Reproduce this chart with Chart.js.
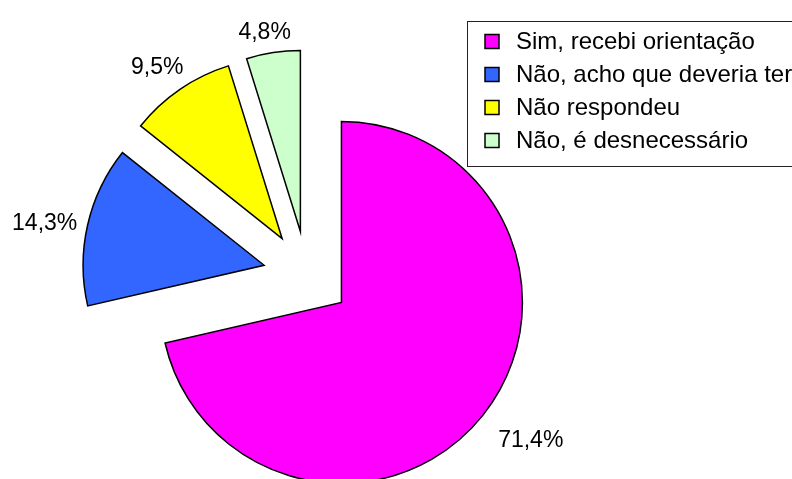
<!DOCTYPE html>
<html>
<head>
<meta charset="utf-8">
<script src="https://cdn.jsdelivr.net/npm/chart.js@4/dist/chart.umd.min.js"></script>
<style>
  html, body { margin: 0; padding: 0; background: #fff; }
  #wrap { width: 792px; height: 479px; position: relative; }
</style>
</head>
<body>
<div id="wrap"><canvas id="chart"></canvas></div>
<script>
const categories = ['Sim, recebi orientação', 'Não, acho que deveria ter', 'Não respondeu', 'Não, é desnecessário'];
const percentages = [71.4, 14.3, 9.5, 4.8];
const sliceColors = ['#FF00FF', '#3366FF', '#FFFF00', '#CCFFCC'];

const LABEL_FONT = '23px "Liberation Sans", Arial, sans-serif';
const LEGEND_FONT = '24px "Liberation Sans", Arial, sans-serif';
const EXPLODE = 44;
// small hand nudges so the labels sit where Excel put them
const labelNudge = [[8, -6], [0, 8], [-4, 6], [-5, 4]];

// push every slice out along its own mid-angle (Excel style explosion)
const explodePlugin = {
    id: 'explode',
    afterDatasetUpdate(chart, args) {
        args.meta.data.forEach(function (arc) {
            const mid = (arc.startAngle + arc.endAngle) / 2;
            arc.x += Math.cos(mid) * EXPLODE;
            arc.y += Math.sin(mid) * EXPLODE;
        });
    }
};

const labelPlugin = {
    id: 'pctLabels',
    afterDatasetsDraw(chart) {
        const ctx = chart.ctx;
        const meta = chart.getDatasetMeta(0);
        ctx.save();
        ctx.font = LABEL_FONT;
        ctx.fillStyle = '#000';
        ctx.textAlign = 'center';
        ctx.textBaseline = 'middle';
        meta.data.forEach(function (arc, i) {
            const txt = percentages[i].toFixed(1).replace('.', ',') + '%';
            const mid = (arc.startAngle + arc.endAngle) / 2;
            const cx = Math.cos(mid), cy = Math.sin(mid);
            const hw = ctx.measureText(txt).width / 2, hh = 10;
            const ext = Math.abs(cx) * hw + Math.abs(cy) * hh;
            const gap = i === 0 ? 19 : 10;
            const d = arc.outerRadius + gap + ext;
            ctx.fillText(txt, arc.x + cx * d + labelNudge[i][0], arc.y + cy * d + labelNudge[i][1]);
        });
        ctx.restore();
    }
};

const legendPlugin = {
    id: 'boxLegend',
    afterDraw(chart) {
        const ctx = chart.ctx;
        ctx.save();
        ctx.strokeStyle = '#222';
        ctx.lineWidth = 1;
        ctx.strokeRect(467.5, 21.5, 340, 145);
        ctx.font = LEGEND_FONT;
        ctx.textBaseline = 'middle';
        categories.forEach(function (name, i) {
            const y = 41.5 + i * 33;
            ctx.fillStyle = sliceColors[i];
            ctx.fillRect(485, y - 7, 14, 14);
            ctx.strokeStyle = '#000';
            ctx.lineWidth = 1.5;
            ctx.strokeRect(485, y - 7, 14, 14);
            ctx.fillStyle = '#000';
            ctx.fillText(name, 516, y + 1);
        });
        ctx.restore();
    }
};

new Chart(document.getElementById('chart'), {
    type: 'pie',
    data: {
        labels: categories,
        datasets: [{
            data: percentages,
            backgroundColor: sliceColors,
            borderColor: '#000',
            borderWidth: 1.5,
            borderJoinStyle: 'miter',
            radius: 181,
            clip: false
        }]
    },
    options: {
        responsive: true,
        maintainAspectRatio: false,
        animation: false,
        layout: { padding: { left: 0, right: 178, top: 71, bottom: 0 } },
        plugins: {
            legend: { display: false },
            tooltip: { enabled: false }
        }
    },
    plugins: [explodePlugin, labelPlugin, legendPlugin]
});
</script>
</body>
</html>
